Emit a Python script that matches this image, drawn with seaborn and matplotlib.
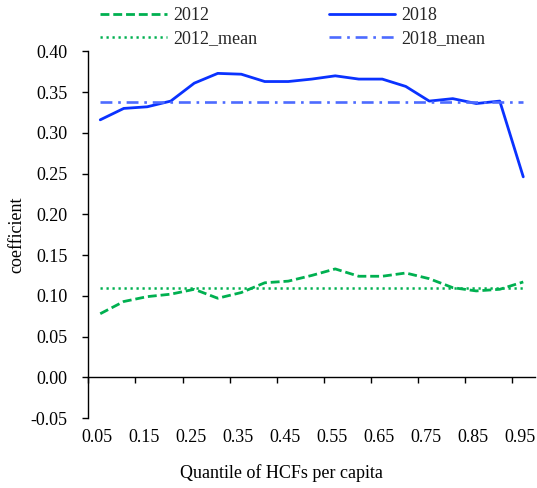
import numpy as np
import matplotlib
matplotlib.use("Agg")
import matplotlib.pyplot as plt
import matplotlib.transforms as mtransforms
import seaborn as sns

# Quantile regression coefficients by quantile of household carbon footprint
quantiles = ["0.05", "0.10", "0.15", "0.20", "0.25", "0.30", "0.35", "0.40", "0.45", "0.50",
             "0.55", "0.60", "0.65", "0.70", "0.75", "0.80", "0.85", "0.90", "0.95"]
coef_2012 = [0.078, 0.093, 0.099, 0.102, 0.108, 0.097, 0.104, 0.116, 0.118, 0.125,
             0.133, 0.124, 0.124, 0.128, 0.121, 0.110, 0.106, 0.108, 0.117]
coef_2018 = [0.316, 0.330, 0.332, 0.339, 0.361, 0.373, 0.372, 0.363, 0.363, 0.366,
             0.370, 0.366, 0.366, 0.357, 0.339, 0.342, 0.336, 0.339, 0.246]
mean_2012 = 0.109
mean_2018 = 0.338
y_ticks = [-0.05, 0.00, 0.05, 0.10, 0.15, 0.20, 0.25, 0.30, 0.35, 0.40]

GREEN = "#00B050"
BLUE = "#0A32FF"
BLUE_LIGHT = "#4D6BFF"

sns.set_theme(style="white")
plt.rcParams["font.family"] = ["Liberation Serif", "DejaVu Serif"]
plt.rcParams["axes.unicode_minus"] = False
FS = 13

fig = plt.figure(figsize=(5.37, 4.88), dpi=100)
ax = fig.add_axes([0.1648, 0.1434, 0.8315, 0.7513])

pos = np.arange(len(quantiles))
n = len(quantiles)

sns.lineplot(x=pos, y=coef_2012, ax=ax, color=GREEN, lw=2.0,
             linestyle=(0, (3.2, 1.4)), label="2012")
sns.lineplot(x=pos, y=[mean_2012] * n, ax=ax, color=GREEN, lw=1.8,
             linestyle=(0, (0.9, 1.5)), label="2012_mean")
sns.lineplot(x=pos, y=coef_2018, ax=ax, color=BLUE, lw=2.0,
             linestyle="-", label="2018")
sns.lineplot(x=pos, y=[mean_2018] * n, ax=ax, color=BLUE_LIGHT, lw=1.9,
             linestyle=(0, (4.5, 2.2, 1.0, 2.2)), label="2018_mean")

handles, labels = ax.get_legend_handles_labels()
ax.get_legend().remove()
order = ["2012", "2012_mean", "2018", "2018_mean"]
hmap = dict(zip(labels, handles))
fig.legend([hmap[k] for k in order], order, ncol=2, loc="upper left",
           bbox_to_anchor=(100 / 537, 1 - 7 / 488), frameon=False,
           fontsize=FS, handlelength=3.7, handletextpad=0.35,
           columnspacing=3.95, labelspacing=0.33, borderpad=0, borderaxespad=0)

ax.set_xlim(-0.5, n - 0.5)
ax.set_ylim(y_ticks[0], y_ticks[-1])

ax.set_xticks(pos[::2])
ax.set_xticklabels([f"{float(q):.2f}" for q in quantiles[::2]], fontsize=FS)
ax.tick_params(axis="x", length=0, pad=8, colors="black")
shift = mtransforms.ScaledTranslation(-3 / 100, 0, fig.dpi_scale_trans)
for lbl in ax.get_xticklabels():
    lbl.set_transform(lbl.get_transform() + shift)

ax.set_yticks(y_ticks)
ax.set_yticklabels([f"{v:.2f}" for v in y_ticks], fontsize=FS)
ax.tick_params(axis="y", left=True, direction="out", length=4, width=1,
               pad=11, colors="black")

for s in ["top", "right", "bottom"]:
    ax.spines[s].set_visible(False)
ax.spines["left"].set_color("black")
ax.spines["left"].set_linewidth(1.0)

# horizontal category axis crossing at zero, ticks between every second category
zero_frac = (0 - y_ticks[0]) / (y_ticks[-1] - y_ticks[0])
sec = ax.secondary_xaxis(zero_frac)
sec.set_xticks(np.arange(-0.5, n - 0.5, 2))
sec.set_xticklabels([])
sec.tick_params(axis="x", direction="out", length=4, width=1, colors="black")
for s, sp in sec.spines.items():
    sp.set_visible(s == "bottom")
sec.spines["bottom"].set_color("black")
sec.spines["bottom"].set_linewidth(1.0)

ax.set_xlabel("Quantile of HCFs per capita", fontsize=FS, color="black", labelpad=11)
ax.xaxis.set_label_coords(0.433, -0.125)
ax.set_ylabel("coefficient", fontsize=FS, color="black", labelpad=12)
ax.yaxis.set_label_coords(-0.142, 0.5)

fig.savefig("out.png", dpi=100)
